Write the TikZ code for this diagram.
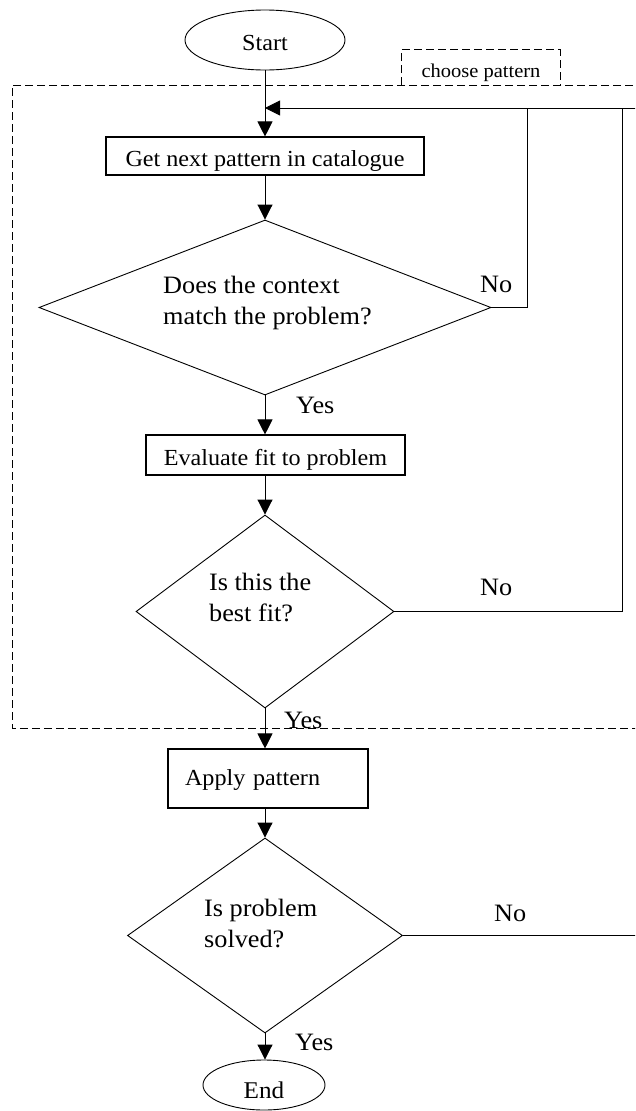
\documentclass[tikz,border=0pt]{standalone}
\usepackage{fontspec}
\setmainfont[FakeStretch=1.05]{Liberation Serif}
\usetikzlibrary{shapes.geometric,arrows.meta}
\begin{document}
\begin{tikzpicture}[x=1pt,y=-1pt,
  ln/.style={line width=0.9pt},
  arr/.style={ln,-{Triangle[length=15pt,width=15pt]}},
  boxnode/.style={draw,line width=1.1pt,rectangle,inner sep=0pt,text height=20pt,text depth=0pt,font=\fontsize{23}{27}\selectfont},
  dia/.style={draw,line width=0.9pt,diamond,inner sep=0pt},
  ell/.style={draw,line width=0.9pt,ellipse,inner sep=0pt,text depth=0pt},
  txt/.style={inner sep=0pt,anchor=base west,align=left,font=\fontsize{25}{31}\selectfont},
  dsh/.style={line width=0.9pt,dash pattern=on 8pt off 4pt}]
\useasboundingbox (0,0) rectangle (635,1111);
\clip (0,0) rectangle (635,1111);
% frame of the "choose pattern" group
\draw[dsh] (645,85) -- (12,85) -- (12,728) -- (645,728);
\node[minimum width=158pt,minimum height=35pt,inner sep=0pt,text height=19pt,text depth=0pt,font=\fontsize{19.5}{22}\selectfont] (choose) at (481,67.5) {choose pattern};
\draw[dsh] (choose.south west) -- (choose.north west) -- (choose.north east) -- (choose.south east);
% nodes
\node[ell,minimum width=160pt,minimum height=60pt,text height=20pt,font=\fontsize{23}{27}\selectfont] (start) at (265,40) {Start};
\node[boxnode,minimum width=318pt,minimum height=38pt] (gn) at (265,156) {Get next pattern in catalogue};
\node[dia,minimum width=452pt,minimum height=175pt] (d1) at (265,307.5) {};
\node[txt] (d1t) at (163,324) {Does the context\\match the problem?};
\node[boxnode,minimum width=259pt,minimum height=40pt] (ev) at (275.5,455) {Evaluate fit to problem};
\node[dia,minimum width=258pt,minimum height=193pt] (d2) at (265,611.5) {};
\node[txt] (d2t) at (209,621) {Is this the\\best fit?};
\node[boxnode,minimum width=200pt,minimum height=59pt,inner xsep=17pt,text width=166pt,align=left,text height=13pt] (ap) at (268,778.5) {Apply pattern};
\node[dia,minimum width=275pt,minimum height=195pt] (d3) at (265,935.5) {};
\node[txt] (d3t) at (204,947) {Is problem\\solved?};
\node[ell,minimum width=122pt,minimum height=50pt,text height=26pt,font=\fontsize{24}{28}\selectfont] (en) at (264,1085) {End};
% labels
\node[txt] (no1) at (480,292) {No};
\node[txt] (no2) at (480,595) {No};
\node[txt] (no3) at (494,921) {No};
\node[txt] (yes1) at (296,413) {Yes};
\node[txt] (yes2) at (284,728) {Yes};
\node[txt] (yes3) at (295,1050) {Yes};
% junctions
\coordinate (j) at (265,108);
\coordinate (jr) at (645,108);
\coordinate (j1) at (527.5,108);
\coordinate (j2) at (622,108);
\coordinate (r3) at (645,935.5);
% connectors
\draw[arr] (start.south) -- (start.south |- gn.north);
\draw[arr] (jr) -- (j);
\draw[arr] (gn.south) -- (d1.north);
\draw[ln] (d1.east) -| (j1);
\draw[ln] (d2.east) -| (j2);
\draw[arr] (d1.south) -- (d1.south |- ev.north);
\draw[arr] (d2.north |- ev.south) -- (d2.north);
\draw[arr] (d2.south) -- (d2.south |- ap.north);
\draw[arr] (d3.north |- ap.south) -- (d3.north);
\draw[ln] (d3.east) -- (r3);
\draw[arr] (d3.south) -- (d3.south |- en.north);
\end{tikzpicture}
\end{document}
